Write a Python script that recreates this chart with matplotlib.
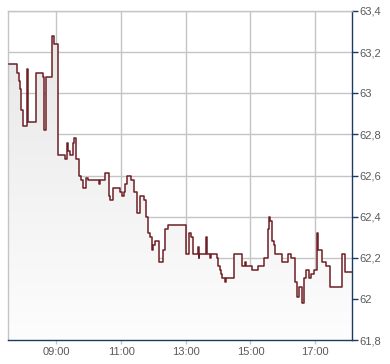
#!/usr/bin/env python3
"""Intraday price chart (step line with grey gradient fill)."""

import numpy as np
import matplotlib
matplotlib.use("Agg")
import matplotlib.pyplot as plt
from matplotlib.colors import LinearSegmentedColormap
from matplotlib.ticker import FixedLocator, FuncFormatter

# trade times and prices
times = [
    "07:31", "07:47", "07:50", "07:52", "07:54", "07:55", "07:57", "08:05", "08:07",
    "08:22", "08:35", "08:37", "08:40", "08:51", "08:56", "09:02", "09:15", "09:19",
    "09:22", "09:25", "09:30", "09:32", "09:37", "09:41", "09:46", "09:50", "09:54",
    "09:55", "09:59", "10:18", "10:20", "10:30", "10:37", "10:40", "10:44", "10:58",
    "11:02", "11:06", "11:08", "11:11", "11:19", "11:24", "11:29", "11:35", "11:43",
    "11:46", "11:50", "11:54", "11:57", "12:00", "12:03", "12:10", "12:17", "12:21",
    "12:27", "13:01", "13:05", "13:10", "13:13", "13:23", "13:24", "13:25", "13:37",
    "13:40", "13:44", "13:47", "13:58", "14:00", "14:03", "14:05", "14:08", "14:12",
    "14:14", "14:29", "14:45", "14:50", "14:52", "15:02", "15:14", "15:25", "15:32",
    "15:34", "15:36", "15:40", "15:43", "15:46", "15:59", "16:09", "16:16", "16:23",
    "16:26", "16:30", "16:35", "16:39", "16:43", "16:48", "16:53", "16:57", "17:03",
    "17:06", "17:12", "17:20", "17:28", "17:50", "17:55",
]
prices = [
    63.14, 63.10, 63.06, 63.02, 62.97, 62.92, 62.84, 63.12, 62.86,
    63.10, 63.08, 62.82, 63.08, 63.28, 63.24, 62.70, 62.68, 62.76,
    62.72, 62.70, 62.76, 62.78, 62.68, 62.60, 62.58, 62.54, 62.58,
    62.59, 62.58, 62.56, 62.58, 62.61, 62.50, 62.48, 62.54, 62.52,
    62.50, 62.52, 62.56, 62.60, 62.58, 62.52, 62.42, 62.50, 62.48,
    62.40, 62.32, 62.30, 62.24, 62.26, 62.28, 62.18, 62.24, 62.34,
    62.36, 62.22, 62.32, 62.30, 62.22, 62.25, 62.20, 62.22, 62.30,
    62.22, 62.20, 62.22, 62.20, 62.16, 62.14, 62.12, 62.10, 62.08,
    62.10, 62.22, 62.16, 62.18, 62.16, 62.14, 62.16, 62.20, 62.34,
    62.40, 62.38, 62.28, 62.26, 62.22, 62.18, 62.22, 62.20, 62.08,
    62.01, 62.06, 61.98, 62.10, 62.14, 62.10, 62.12, 62.14, 62.32,
    62.24, 62.18, 62.16, 62.06, 62.22, 62.13,
]
hour_ticks = [9, 11, 13, 15, 17]
price_ticks = [61.8, 62.0, 62.2, 62.4, 62.6, 62.8, 63.0, 63.2, 63.4]

X0, X1 = 7.5, 18.14
Y0, Y1 = 61.8, 63.4


def to_hours(s):
    h, m = s.split(":")
    return int(h) + int(m) / 60


x = np.array([to_hours(t) for t in times] + [X1])
y = np.array(prices + [prices[-1]])

grid_c = "#c4c4c4"
axis_c = "#1c3a63"
line_c = "#6e1f25"
text_c = "#5a5a5a"

plt.rcParams["font.family"] = ["Liberation Sans", "DejaVu Sans"]

fig = plt.figure(figsize=(3.9, 3.64), dpi=100)
ax = fig.add_axes([8 / 390, 24 / 364, 344 / 390, 329 / 364])
ax.set_xlim(X0, X1)
ax.set_ylim(Y0, Y1)

# gradient fill under the step line
fill = ax.fill_between(x, y, Y0, step="post", facecolor="none", edgecolor="none")
cmap = LinearSegmentedColormap.from_list("g", ["#fdfdfd", "#e6e6e6"])
grad = np.linspace(0, 1, 256).reshape(-1, 1)
img = ax.imshow(grad, cmap=cmap, aspect="auto", origin="lower",
                extent=[X0, X1, Y0, Y1], zorder=1)
path = fill.get_paths()[0]
img.set_clip_path(path, transform=ax.transData)

ax.step(x, y, where="post", color=line_c, lw=1.1, zorder=3)

ax.xaxis.set_major_locator(FixedLocator(hour_ticks))
ax.xaxis.set_major_formatter(FuncFormatter(lambda v, p: f"{int(v):02d}:00"))
ax.yaxis.set_major_locator(FixedLocator(price_ticks))
ax.yaxis.set_major_formatter(
    FuncFormatter(lambda v, p: (f"{v:.1f}".rstrip("0").rstrip(".")).replace(".", ",")))
ax.yaxis.tick_right()

ax.grid(True, color=grid_c, lw=1.0, zorder=0)
ax.set_axisbelow(True)
for side in ("top", "left"):
    ax.spines[side].set_color(grid_c)
    ax.spines[side].set_linewidth(1.0)
for side in ("bottom", "right"):
    ax.spines[side].set_color(axis_c)
    ax.spines[side].set_linewidth(1.0)

ax.tick_params(axis="x", colors=grid_c, length=3, width=1, labelcolor=text_c,
               labelsize=8, pad=2)
ax.tick_params(axis="y", colors=axis_c, length=4, width=1, labelcolor=text_c,
               labelsize=8, pad=1)

fig.savefig("out.png", dpi=100)
